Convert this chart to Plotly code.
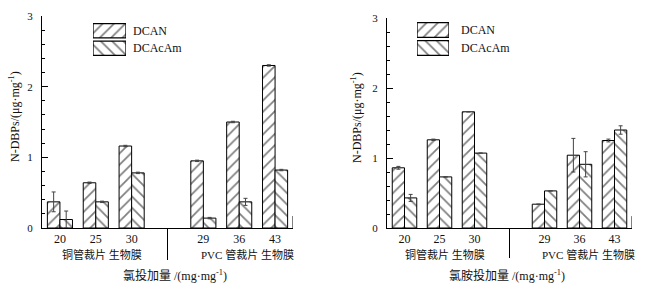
import plotly.graph_objects as go

# ---------------- data ----------------
DOSES = ["20", "25", "30", "29", "36", "43"]
GROUPS = ["铜管裁片 生物膜", "PVC 管裁片 生物膜"]
SERIES = ["DCAN", "DCAcAm"]

CL_DCAN = [0.37, 0.64, 1.16, 0.95, 1.50, 2.30]
CL_DCAN_ERR = [0.14, 0.01, 0.01, 0.01, 0.01, 0.01]
CL_DCACAM = [0.12, 0.37, 0.78, 0.14, 0.37, 0.82]
CL_DCACAM_ERR = [0.12, 0.01, 0.01, 0.01, 0.05, 0.01]

NH_DCAN = [0.86, 1.26, 1.66, 0.34, 1.04, 1.25]
NH_DCAN_ERR = [0.02, 0.01, 0.0, 0.0, 0.24, 0.02]
NH_DCACAM = [0.43, 0.73, 1.07, 0.53, 0.91, 1.40]
NH_DCACAM_ERR = [0.05, 0.0, 0.0, 0.0, 0.18, 0.06]

X_TITLES = ["氯投加量 /(mg·mg<sup>-1</sup>)", "氯胺投加量 /(mg·mg<sup>-1</sup>)"]
Y_TITLE = "N-DBPs/(μg·mg<sup>-1</sup>)"

# ---------------- style ----------------
W, H = 661, 295
FONT = "Liberation Serif, Noto Sans CJK SC, serif"
INK = "#111"
PATTERNS = ["/", "\\"]


def px(p):
    return p / W


def py(p):
    return 1 - p / H


# slot positions: 3 groups, a gap, 3 groups
POS = [i if i < 3 else i + 1 for i in range(len(DOSES))]

fig = go.Figure()

panels = [
    dict(xa="x", ya="y", vals=[CL_DCAN, CL_DCACAM], errs=[CL_DCAN_ERR, CL_DCACAM_ERR]),
    dict(xa="x2", ya="y2", vals=[NH_DCAN, NH_DCACAM], errs=[NH_DCAN_ERR, NH_DCACAM_ERR]),
]

for p in panels:
    for name, v, e, pat in zip(SERIES, p["vals"], p["errs"], PATTERNS):
        fig.add_trace(go.Bar(
            x=POS, y=v, name=name, xaxis=p["xa"], yaxis=p["ya"], showlegend=False,
            marker=dict(color="white", line=dict(color="black", width=1),
                        pattern=dict(shape=pat, fgcolor="black", bgcolor="white",
                                     size=8, solidity=0.22)),
            error_y=dict(type="data", array=e, color="#444", thickness=1, width=2),
        ))

# legend swatches on small hidden axes
for xa, ya in [("x3", "y3"), ("x4", "y4")]:
    fig.add_trace(go.Bar(
        x=[1] * len(SERIES), y=SERIES, orientation="h", width=0.82,
        xaxis=xa, yaxis=ya, showlegend=False, hoverinfo="skip",
        marker=dict(color="white", line=dict(color="black", width=1.3),
                    pattern=dict(shape=PATTERNS, fgcolor="black", bgcolor="white",
                                 size=8, solidity=0.22)),
    ))

axis_common = dict(showgrid=False, zeroline=False, showline=True, linecolor="black",
                   linewidth=1, fixedrange=True)

xdoms = [[px(42), px(293)], [px(387), px(632)]]
ydoms = [[py(228), py(16)], [py(228), py(18)]]

layout = dict(
    width=W, height=H, margin=dict(l=0, r=0, t=0, b=0, autoexpand=False),
    paper_bgcolor="white", plot_bgcolor="white",
    barmode="group", bargap=0.3, bargroupgap=0,
    font=dict(family=FONT, size=12, color=INK),
)
for i, (xd, yd) in enumerate(zip(xdoms, ydoms)):
    sx = "" if i == 0 else str(i + 1)
    layout["xaxis" + sx] = dict(
        domain=xd, anchor="y" + sx, range=[-0.5, 6.5], tickvals=POS, ticktext=DOSES,
        ticks="", ticklabelstandoff=0, tickfont=dict(family=FONT, size=12, color=INK),
        automargin=False, **axis_common)
    layout["yaxis" + sx] = dict(
        domain=yd, anchor="x" + sx, range=[0, 3], dtick=1, ticks="inside", ticklen=6,
        tickcolor="black", ticklabelstandoff=6, tickfont=dict(family=FONT, size=11, color=INK),
        minor=dict(dtick=0.2, ticks="inside", ticklen=3, tickcolor="black"),
        automargin=False, **axis_common)

leg_x = [[px(93), px(126)], [px(417), px(449)]]
leg_y = [[py(57), py(22)], [py(57), py(21)]]
for i, (lx, ly) in enumerate(zip(leg_x, leg_y)):
    n = str(i + 3)
    layout["xaxis" + n] = dict(domain=lx, anchor="y" + n, range=[0, 1], visible=False,
                               fixedrange=True, automargin=False)
    layout["yaxis" + n] = dict(domain=ly, anchor="x" + n, range=[-0.5, 1.5], visible=False,
                               categoryorder="array", categoryarray=SERIES[::-1],
                               fixedrange=True, automargin=False)

fig.update_layout(**layout)

ann = []
# legend labels
for tx, (top, bot) in zip([131, 459], [(22, 57), (21, 57)]):
    mid = (top + bot) / 2
    for name, cy in zip(SERIES, [(top + mid) / 2, (mid + bot) / 2]):
        ann.append(dict(x=px(tx), y=py(cy), xref="paper", yref="paper", text=name,
                        xanchor="left", yanchor="middle", showarrow=False,
                        font=dict(family=FONT, size=12, color=INK)))

# group labels
for cx, t in [(102, GROUPS[0]), (247, GROUPS[1]), (445, GROUPS[0]), (588, GROUPS[1])]:
    ann.append(dict(x=px(cx), y=py(254), xref="paper", yref="paper", text=t, showarrow=False,
                    xanchor="center", yanchor="middle", font=dict(family=FONT, size=11, color=INK)))
# x titles
for cx, t in [(175, X_TITLES[0]), (507, X_TITLES[1])]:
    ann.append(dict(x=px(cx), y=py(275), xref="paper", yref="paper", text=t, showarrow=False,
                    xanchor="center", yanchor="middle", font=dict(family=FONT, size=12, color=INK)))
# y titles
for cx in [15, 357]:
    ann.append(dict(x=px(cx), y=py(117), xref="paper", yref="paper", text=Y_TITLE, showarrow=False,
                    textangle=-90, xanchor="center", yanchor="middle",
                    font=dict(family=FONT, size=12, color=INK)))
fig.update_layout(annotations=ann)

shapes = []
for xr, bot in [("x", 260), ("x2", 258)]:
    # separator between the two biofilm groups
    shapes.append(dict(type="line", xref=xr, yref="paper", x0=3, x1=3, y0=py(228), y1=py(bot),
                       line=dict(color="black", width=1)))
for xr, yr in [("x", "y"), ("x2", "y2")]:
    # closing tick at the right end of the x axis
    shapes.append(dict(type="line", xref=xr, yref=yr, x0=6.5, x1=6.5, y0=0, y1=0.17,
                       line=dict(color="black", width=1)))
fig.update_layout(shapes=shapes)

# place the figure flush with the page corner (no default body margin), no toolbar
fig.write_html("out.html",
               config={"displayModeBar": False},
               post_script="document.body.style.margin='0';document.body.style.overflow='hidden';")
